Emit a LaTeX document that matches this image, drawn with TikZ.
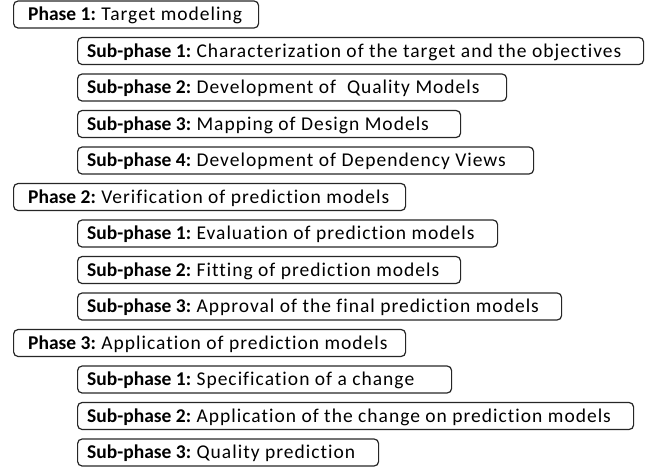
\documentclass[tikz,border=0pt]{standalone}
\usepackage{fontspec}
\setmainfont{Carlito}[Ligatures=NoCommon, LetterSpace=5.2, BoldFeatures={LetterSpace=0}]
\frenchspacing
\begin{document}
\begin{tikzpicture}[x=1pt,y=-1pt,
  box/.style={draw=black!85, line width=1.2pt, rounded corners=4.5pt, anchor=west, minimum height=27pt, inner sep=0pt},
  lbl/.style={anchor=base west, inner sep=0pt, font=\fontsize{19.5}{22}\selectfont}]
\useasboundingbox (0,0) rectangle (651,467);
\newcommand\phbox[6]{%
  \node[box, minimum width={(#3-#2)*1pt}] (#1) at (#2,#4) {};
  \node[lbl] (#1t) at (#2+#5,#4+6.2) {#6};
}
\phbox{pa}{13}{258}{14.5}{15}{\textbf{Phase 1:} Target modeling}
\phbox{pas}{77}{643}{51}{10}{\textbf{Sub-phase 1:} Characterization of the target and the objectives}
\phbox{pat}{77}{506}{87.5}{10}{\textbf{Sub-phase 2:} Development of\ \ Quality Models}
\phbox{pau}{77}{460}{124}{10}{\textbf{Sub-phase 3:} Mapping of Design Models}
\phbox{pav}{77}{533}{160.5}{10}{\textbf{Sub-phase 4:} Development of Dependency Views}
\phbox{pb}{13}{405}{197}{15}{\textbf{Phase 2:} Verification of prediction models}
\phbox{pbs}{77}{497}{233.5}{10}{\textbf{Sub-phase 1:} Evaluation of prediction models}
\phbox{pbt}{77}{460}{270}{10}{\textbf{Sub-phase 2:} Fitting of prediction models}
\phbox{pbu}{77}{561}{306.5}{10}{\textbf{Sub-phase 3:} Approval of the final prediction models}
\phbox{pc}{13}{405}{343}{15}{\textbf{Phase 3:} Application of prediction models}
\phbox{pcs}{77}{451}{379.5}{10}{\textbf{Sub-phase 1:} Specification of a change}
\phbox{pct}{77}{633}{416}{10}{\textbf{Sub-phase 2:} Application of the change on prediction models}
\phbox{pcu}{77}{378}{452.5}{10}{\textbf{Sub-phase 3:} Quality prediction}
\end{tikzpicture}
\end{document}
